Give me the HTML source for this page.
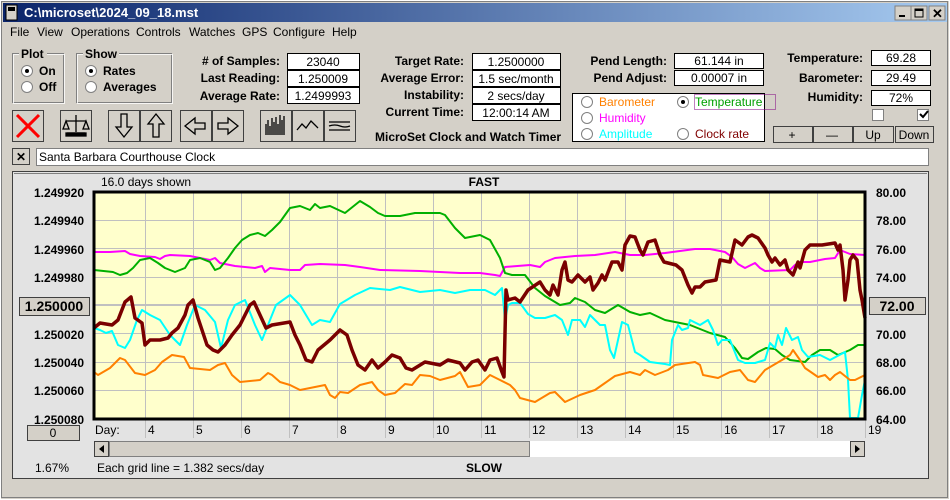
<!DOCTYPE html>
<html><head><meta charset="utf-8"><style>
body{margin:0;padding:0;width:950px;height:500px;overflow:hidden;background:#d4d0c8}
svg{display:block}
text{font-family:"Liberation Sans",Arial,sans-serif;font-size:12px;fill:#000}
.b{font-weight:bold}
</style></head><body>
<svg width="950" height="500" viewBox="0 0 950 500" xmlns="http://www.w3.org/2000/svg">
<defs>
<linearGradient id="tb" x1="0" x2="1"><stop offset="0" stop-color="#0a246a"/><stop offset="1" stop-color="#a6caf0"/></linearGradient>
</defs>
<!-- window frame -->
<rect x="0" y="0" width="950" height="500" fill="#d4d0c8"/>
<rect x="0.5" y="0.5" width="949" height="499" fill="none" stroke="#fff"/>
<rect x="1.5" y="1.5" width="946" height="496" fill="none" stroke="#808080"/>
<rect x="3" y="3" width="944" height="19" fill="url(#tb)"/>
<rect x="6" y="5" width="11" height="15" fill="#d4d0c8" stroke="#000"/>
<rect x="8" y="7" width="7" height="4" fill="#000"/>
<text x="24" y="17" class="b" style="fill:#fff;font-size:13px">C:\microset\2024_09_18.mst</text>
<g fill="#d4d0c8" stroke="#808080">
<rect x="895" y="6" width="16" height="14"/><rect x="911" y="6" width="16" height="14"/><rect x="929" y="6" width="16" height="14"/></g>
<rect x="899" y="15" width="6" height="2" fill="#000"/>
<rect x="915" y="9" width="8" height="8" fill="none" stroke="#000"/><rect x="915" y="9" width="8" height="2" fill="#000"/>
<text x="932" y="18" class="b" style="font-size:13px">✕</text>
<!-- menu -->
<g><text x="10" y="36">File</text><text x="37" y="36">View</text><text x="71" y="36">Operations</text><text x="136" y="36">Controls</text><text x="189" y="36">Watches</text><text x="242" y="36">GPS</text><text x="273" y="36">Configure</text><text x="332" y="36">Help</text></g>
<!-- Plot / Show groups -->
<g fill="none"><rect x="12.5" y="53.5" width="51" height="49" stroke="#808080"/><rect x="13.5" y="54.5" width="51" height="49" stroke="#fff" opacity="0.8"/>
<rect x="76.5" y="53.5" width="95" height="49" stroke="#808080"/><rect x="77.5" y="54.5" width="95" height="49" stroke="#fff" opacity="0.8"/></g>
<rect x="19" y="47" width="28" height="12" fill="#d4d0c8"/><text x="21" y="58" class="b">Plot</text>
<rect x="83" y="47" width="36" height="12" fill="#d4d0c8"/><text x="85" y="58" class="b">Show</text>
<g fill="#fff" stroke="#808080"><circle cx="27" cy="71" r="5.5"/><circle cx="27" cy="87" r="5.5"/><circle cx="91" cy="71" r="5.5"/><circle cx="91" cy="87" r="5.5"/></g>
<circle cx="27" cy="71" r="2" fill="#000"/><circle cx="91" cy="71" r="2" fill="#000"/>
<text x="39" y="75" class="b">On</text><text x="39" y="91" class="b">Off</text>
<text x="103" y="75" class="b">Rates</text><text x="103" y="91" class="b">Averages</text>
<!-- fields col1 -->
<g class="b" text-anchor="end"><text x="280" y="65">#  of Samples:</text><text x="280" y="82">Last Reading:</text><text x="280" y="100">Average Rate:</text>
<text x="464" y="65">Target Rate:</text><text x="464" y="82">Average Error:</text><text x="464" y="99">Instability:</text><text x="464" y="116">Current Time:</text>
<text x="667" y="65">Pend Length:</text><text x="667" y="82">Pend Adjust:</text>
<text x="863" y="62">Temperature:</text><text x="863" y="82">Barometer:</text><text x="863" y="101">Humidity:</text></g>
<g fill="#fff" stroke="#000">
<rect x="287.5" y="53.5" width="72" height="16"/><rect x="287.5" y="70.5" width="72" height="16"/><rect x="287.5" y="87.5" width="72" height="16"/>
<rect x="472.5" y="53.5" width="88" height="16"/><rect x="472.5" y="70.5" width="88" height="16"/><rect x="472.5" y="87.5" width="88" height="16"/><rect x="472.5" y="104.5" width="88" height="16"/>
<rect x="674.5" y="53.5" width="89" height="15"/><rect x="674.5" y="70.5" width="89" height="15"/>
<rect x="871.5" y="50.5" width="59" height="15"/><rect x="871.5" y="70.5" width="59" height="15"/><rect x="871.5" y="90.5" width="59" height="15"/>
<rect x="572.5" y="93.5" width="192" height="48"/>
</g>
<g text-anchor="middle"><text x="323" y="66">23040</text><text x="323" y="83">1.250009</text><text x="323" y="100">1.2499993</text>
<text x="516" y="66">1.2500000</text><text x="516" y="83">1.5 sec/month</text><text x="516" y="100">2 secs/day</text><text x="516" y="117">12:00:14 AM</text>
<text x="719" y="65">61.144 in</text><text x="719" y="82">0.00007 in</text>
<text x="901" y="62">69.28</text><text x="901" y="82">29.49</text><text x="901" y="102">72%</text></g>
<text x="375" y="141" class="b">MicroSet Clock and Watch Timer</text>
<!-- legend -->
<g fill="#fff" stroke="#808080"><circle cx="587" cy="102" r="5.5"/><circle cx="587" cy="118" r="5.5"/><circle cx="587" cy="134" r="5.5"/><circle cx="683" cy="102" r="5.5"/><circle cx="683" cy="134" r="5.5"/></g>
<circle cx="683" cy="102" r="2" fill="#000"/>
<text x="599" y="106" style="fill:#ff8000">Barometer</text><text x="599" y="122" style="fill:#ff00ff">Humidity</text><text x="599" y="138" style="fill:#00ffff">Amplitude</text>
<text x="695" y="106" style="fill:#00a000">Temperature</text><text x="695" y="138" style="fill:#800000">Clock rate</text>
<rect x="694.5" y="94.5" width="81" height="15" fill="none" stroke="#800080" stroke-dasharray="1,1"/>
<!-- checkboxes & buttons -->
<g fill="#fff" stroke="#808080"><rect x="872.5" y="109.5" width="11" height="11"/><rect x="917.5" y="109.5" width="11" height="11"/></g>
<path d="M920 114 l3 3 l5 -6" fill="none" stroke="#000" stroke-width="2"/>
<g fill="#d4d0c8" stroke="#404040"><rect x="773.5" y="126.5" width="39" height="16"/><rect x="813.5" y="126.5" width="39" height="16"/><rect x="853.5" y="126.5" width="40" height="16"/><rect x="895.5" y="126.5" width="38" height="16"/></g>
<g text-anchor="middle"><text x="792" y="139">+</text><text x="832" y="139">—</text><text x="873" y="139">Up</text><text x="914" y="139">Down</text></g>
<!-- toolbar -->
<g fill="#d4d0c8" stroke="#404040">
<rect x="12.5" y="110.5" width="31" height="31"/><rect x="60.5" y="110.5" width="31" height="31"/>
<rect x="108.5" y="110.5" width="31" height="31"/><rect x="140.5" y="110.5" width="31" height="31"/>
<rect x="180.5" y="110.5" width="31" height="31"/><rect x="212.5" y="110.5" width="31" height="31"/>
<rect x="260.5" y="110.5" width="31" height="31"/><rect x="292.5" y="110.5" width="31" height="31"/><rect x="324.5" y="110.5" width="31" height="31"/></g>
<path d="M17 115 L39 137 M39 115 L17 137" stroke="#f00" stroke-width="3"/>
<g stroke="#000" fill="none" stroke-width="1.3"><path d="M76 115 V132 M66 121 H86 M66 121 L63 129 H69 Z M86 121 L83 129 H89 Z M67 133 H85"/><rect x="66" y="133" width="20" height="3" fill="#000"/>
<path d="M121 114 V127 H116 L124 137 L132 127 H127 V114 Z"/><path d="M153 137 V124 H148 L156 114 L164 124 H159 V137 Z"/>
<path d="M205 123 H195 V118 L185 126 L195 134 V129 H205 Z"/><path d="M218 123 H228 V118 L238 126 L228 134 V129 H218 Z"/>
<path d="M266 135 V124 M268 135 V120 M270 135 V126 M272 135 V118 M274 135 V122 M276 135 V117 M278 135 V124 M280 135 V115 M282 135 V120 M284 135 V116"/>
<path d="M297 130 L302 124 L306 128 L311 121 L318 128"/>
<path d="M329 122 H350 M329 126 Q335 124 340 126 T350 126 M329 130 H350"/></g>
<!-- text field -->
<rect x="12.5" y="148.5" width="17" height="16" fill="#d4d0c8" stroke="#404040"/><text x="16" y="161" class="b">✕</text>
<rect x="36.5" y="148.5" width="892" height="17" fill="#fff" stroke="#808080"/>
<text x="39" y="161">Santa Barbara Courthouse Clock</text>
<!-- chart panel -->
<rect x="12.5" y="171.5" width="916" height="307" fill="#e3e3e3" stroke="#404040"/>
<rect x="14" y="173" width="913" height="1" fill="#808080"/>
<text x="101" y="186">16.0 days shown</text>
<text x="484" y="186" class="b" text-anchor="middle">FAST</text>
<text x="484" y="472" class="b" text-anchor="middle">SLOW</text>
<text x="35" y="472">1.67%</text>
<text x="97" y="472">Each grid line = 1.382 secs/day</text>
<rect x="94" y="192" width="771" height="227" fill="#ffffcc"/>
<g stroke="#c0c0c0" stroke-width="1">
<path d="M94 220.5H865M94 248.5H865M94 277.5H865M94 305.5H865M94 333.5H865M94 362.5H865M94 390.5H865"/>
<path d="M145.5 192V438M193.5 192V438M241.5 192V438M289.5 192V438M337.5 192V438M385.5 192V438M433.5 192V438M481.5 192V438M529.5 192V438M577.5 192V438M625.5 192V438M673.5 192V438M721.5 192V438M769.5 192V438M817.5 192V438M865.5 419V438"/>
</g>
<rect x="94" y="304" width="771" height="2" fill="#c0c0c0"/>
<g class="b" text-anchor="end" style="font-size:14px"><text x="84" y="197">1.249920</text><text x="84" y="225">1.249940</text><text x="84" y="254">1.249960</text><text x="84" y="282">1.249980</text><text x="84" y="339">1.250020</text><text x="84" y="367">1.250040</text><text x="84" y="395">1.250060</text><text x="84" y="424">1.250080</text></g>
<g class="b" style="font-size:14px"><text x="876" y="197">80.00</text><text x="876" y="225">78.00</text><text x="876" y="254">76.00</text><text x="876" y="282">74.00</text><text x="876" y="339">70.00</text><text x="876" y="367">68.00</text><text x="876" y="395">66.00</text><text x="876" y="424">64.00</text></g>
<rect x="19.5" y="297.5" width="70" height="18" fill="#d4d0c8" stroke="#404040"/><text x="54" y="311" class="b" text-anchor="middle" style="font-size:14px">1.250000</text>
<rect x="869.5" y="297.5" width="56" height="17" fill="#d4d0c8" stroke="#404040"/><text x="897" y="311" class="b" text-anchor="middle" style="font-size:14px">72.00</text>
<rect x="27.5" y="425.5" width="52" height="15" fill="#d4d0c8" stroke="#404040"/><text x="53" y="437" text-anchor="middle">0</text>
<text x="95" y="434">Day:</text>
<g><text x="148" y="434">4</text><text x="196" y="434">5</text><text x="244" y="434">6</text><text x="292" y="434">7</text><text x="340" y="434">8</text><text x="388" y="434">9</text><text x="436" y="434">10</text><text x="484" y="434">11</text><text x="532" y="434">12</text><text x="580" y="434">13</text><text x="628" y="434">14</text><text x="676" y="434">15</text><text x="724" y="434">16</text><text x="772" y="434">17</text><text x="820" y="434">18</text><text x="868" y="434">19</text></g>
<rect x="94" y="441" width="771" height="16" fill="#fff"/>
<rect x="94" y="441" width="436" height="16" fill="#d4d0c8"/>
<rect x="94.5" y="441.5" width="14" height="15" fill="#d4d0c8" stroke="#404040"/><path d="M104 445 L99 449 L104 453Z" fill="#000"/>
<rect x="109.5" y="441.5" width="420" height="15" fill="#d4d0c8" stroke="#808080"/>
<rect x="850.5" y="441.5" width="14" height="15" fill="#d4d0c8" stroke="#404040"/><path d="M855 445 L860 449 L855 453Z" fill="#000"/>
<!-- series -->
<g fill="none" stroke-linejoin="round">
<polyline stroke="#ff00ff" stroke-width="2" points="94,252 110,252 125,251 130,254 140,256 155,257 160,259 165,256 170,255 190,256 200,258 210,260 215,258 220,263 235,266 255,268 262,266 265,272 270,268 290,270 300,270 305,265 320,264 345,265 360,267 380,270 420,271 460,273 480,273 495,275 500,276 505,267 530,265 540,267 545,262 555,258 575,256 595,255 615,252 630,255 645,255 665,253 695,249 710,249 725,252 732,257 738,264 745,268 755,263 760,268 765,271 790,270 795,265 800,262 810,262 825,259 835,258 840,250 845,252 850,254 865,255"/>
<polyline stroke="#00b000" stroke-width="2" points="94,270 113,272 120,275 127,273 133,268 140,260 150,258 158,263 165,268 175,272 185,268 190,260 200,258 210,262 215,270 220,268 228,258 235,248 242,240 250,235 258,233 265,236 272,230 280,222 290,208 300,206 310,210 315,204 320,208 330,206 345,213 355,205 360,201 370,207 378,213 385,216 400,216 415,213 440,213 445,215 455,228 465,238 480,235 490,240 500,258 505,273 512,275 525,275 535,288 545,296 560,305 570,303 575,298 585,302 595,310 605,313 618,305 630,312 640,315 650,313 665,320 690,325 710,333 725,337 735,348 742,358 748,359 758,352 766,348 775,349 782,355 790,360 805,362 812,355 820,350 830,350 838,355 850,350 858,345 865,345"/>
<polyline stroke="#00ffff" stroke-width="2" points="94,328 100,330 106,333 112,331 118,345 125,348 130,340 137,320 142,310 150,315 160,320 170,335 180,345 187,325 195,305 205,310 215,322 221,348 228,320 235,305 245,300 255,325 262,340 270,320 276,305 290,295 300,305 312,325 320,320 330,322 340,304 355,295 370,288 390,290 400,287 420,292 440,290 455,293 470,290 485,290 495,295 502,288 505,320 508,305 512,303 520,303 528,314 535,318 545,318 555,315 562,320 568,335 572,320 580,320 585,327 590,315 600,325 605,325 610,350 614,358 618,340 622,322 628,325 635,352 640,355 650,362 665,364 670,365 672,340 678,325 682,330 688,328 690,320 700,325 708,320 713,330 718,345 722,340 730,340 738,360 745,363 755,363 765,360 770,343 775,348 778,335 782,345 786,328 792,340 798,337 802,350 808,357 820,355 830,360 845,352 848,380 850,418 858,418 862,395 865,380"/>
<polyline stroke="#ff8000" stroke-width="2" points="94,372 98,375 110,368 120,358 125,360 135,373 145,375 155,370 162,362 172,355 184,357 190,368 210,370 218,365 225,363 232,375 240,382 260,380 268,373 272,375 280,382 290,385 300,390 325,385 330,395 335,398 340,392 348,393 360,385 372,382 378,390 385,395 395,393 405,384 412,385 420,375 430,376 440,380 455,376 460,372 468,387 480,385 490,375 500,380 510,385 515,390 520,398 535,402 550,393 555,392 565,402 580,395 595,390 605,383 615,376 630,372 640,375 645,370 655,375 668,370 675,365 695,362 700,365 703,375 718,378 730,372 740,370 748,380 755,382 765,370 782,360 790,355 793,350 800,360 805,368 818,377 825,375 830,380 835,375 840,372 850,380 855,380 865,375"/>
<polyline stroke="#7a0000" stroke-width="3.5" points="94,328 100,323 112,325 118,320 125,302 131,297 135,318 142,323 145,345 150,340 160,340 168,338 172,333 178,328 185,315 188,305 193,300 198,318 202,330 207,345 213,350 218,352 225,345 232,335 240,325 245,315 250,305 254,302 260,315 266,328 272,325 290,322 295,335 300,345 306,360 312,362 318,350 330,340 340,330 347,335 352,350 358,365 365,370 372,360 378,368 385,362 392,355 400,358 406,368 412,370 425,362 440,365 448,360 460,363 465,370 472,362 478,360 485,370 490,360 497,358 502,372 504,377 506,290 508,300 515,298 520,302 528,290 540,282 545,290 550,295 553,285 558,295 562,270 565,262 568,280 572,282 578,275 585,282 590,277 593,290 598,283 602,275 605,280 612,262 618,262 622,270 625,245 630,236 635,237 640,250 643,255 648,242 655,240 660,255 664,262 676,265 682,270 688,285 692,293 695,287 700,287 705,282 716,280 720,260 730,262 735,240 742,245 748,237 752,235 758,238 765,248 768,255 772,262 775,258 780,265 785,260 788,270 793,275 798,262 800,268 805,250 810,245 822,245 835,243 838,250 840,245 843,270 845,300 848,280 850,260 853,255 857,260 860,290 862,300 865,318"/>
</g>
<rect x="94" y="192" width="771" height="227" fill="none" stroke="#000" stroke-width="3"/>
</svg>
</body></html>
